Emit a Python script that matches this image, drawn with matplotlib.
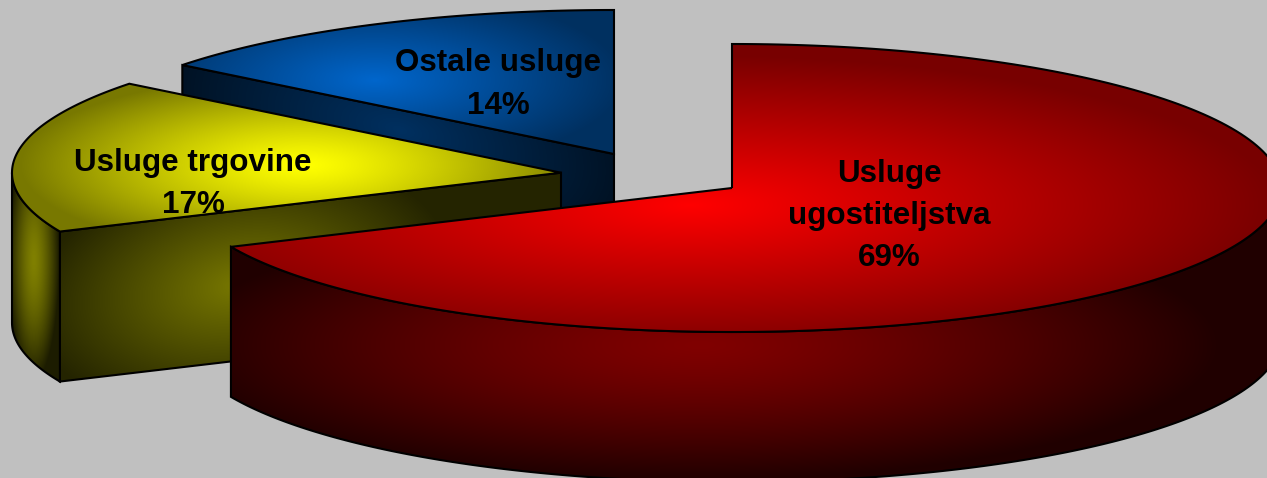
import matplotlib

matplotlib.use("Agg")
import matplotlib.pyplot as plt
import numpy as np
from matplotlib.colors import to_rgb
from matplotlib.patches import Polygon

categories = ["Usluge\nugostiteljstva", "Usluge trgovine", "Ostale usluge"]
shares = [68.3, 17.3, 14.4]
percent_labels = ["69%", "17%", "14%"]

WIDTH, HEIGHT = 1267, 478
RX, RY = 549, 144
DEPTH = 150

# Per slice: exploded centre and label position, in pixels
centers = [(732, 188), (561, 172.7), (614, 154)]
label_pos = [(889, 216), (193, 184), (498, 84.5)]

# Gradients: (cx, cy, rx, ry, bright, dark, slope, power)
top_shades = [
    (690, 205, 590, 150, "#ff0000", "#780000", 0, 1),
    (305, 165, 285, 90, "#ffff00", "#787800", 0, 1.25),
    (375, 80, 250, 90, "#0066cc", "#003060", 0, 1),
]
rim_shades = [
    (700, 345, 520, 135, "#800000", "#200000", 0, 1.3),
    (34, 260, 25, 120, "#808000", "#1c1c00", 0, 1.5),
    None,
]
cut_shades = [
    None,
    (240, 285, 210, 125, "#787800", "#242400", -0.115, 1),
    (400, 130, 235, 120, "#003060", "#001020", 0.2, 1),
]

X, Y = np.meshgrid(np.arange(WIDTH) + 0.5, np.arange(HEIGHT) + 0.5)


def shade(cx, cy, rx, ry, bright, dark, slope, power):
    dy = Y - cy - slope * (X - cx)
    t = np.clip(np.sqrt(((X - cx) / rx) ** 2 + (dy / ry) ** 2), 0, 1) ** power
    bright, dark = np.array(to_rgb(bright)), np.array(to_rgb(dark))
    return bright + (dark - bright) * t[..., None]


def arc(center, a1, a2):
    # a1 and a2 in degrees, counter clockwise from the right
    ang = np.radians(np.linspace(a1, a2, 200))
    return np.column_stack(
        [center[0] + RX * np.cos(ang), center[1] - RY * np.sin(ang)]
    )


def draw_face(ax, pts, params, zorder):
    outline = Polygon(pts, closed=True, fill=False, edgecolor="black", lw=1.5, zorder=zorder + 0.5)
    ax.add_patch(outline)
    im = ax.imshow(
        shade(*params),
        extent=(0, WIDTH, HEIGHT, 0),
        interpolation="nearest",
        aspect="auto",
        zorder=zorder,
    )
    im.set_clip_path(Polygon(pts, closed=True, transform=ax.transData))


fig = plt.figure(figsize=(WIDTH / 100, HEIGHT / 100), dpi=100, facecolor="#c0c0c0")
ax = fig.add_axes([0, 0, 1, 1])
ax.set_axis_off()

# Angles run clockwise from the top
sweeps = np.array(shares) / sum(shares) * 360
ends = 90 - np.cumsum(sweeps)
starts = ends + sweeps

# Back slices first so the red one lands on top
for i in [2, 1, 0]:
    z = (2 - i) * 10 + 1
    c = centers[i]
    a1, a2 = starts[i], ends[i]
    shift = np.array([0, DEPTH])

    if cut_shades[i] is not None:
        corner = arc(c, a1, a1)[:1]
        face = np.vstack([corner, [c], np.array([c]) + shift, corner + shift])
        draw_face(ax, face, cut_shades[i], z)

    if rim_shades[i] is not None:
        # only the front half of the rim can be seen
        edge = arc(c, min(a1, 0), max(a2, -180))
        draw_face(ax, np.vstack([edge, edge[::-1] + shift]), rim_shades[i], z + 1)

    top = np.vstack([[c], arc(c, a1, a2)])
    draw_face(ax, top, top_shades[i], z + 2)

for name, pct, pos in zip(categories, percent_labels, label_pos):
    ax.text(
        pos[0],
        pos[1],
        f"{name}\n{pct}",
        ha="center",
        va="center",
        family="Liberation Sans",
        fontweight="bold",
        fontsize=22.6,
        color="black",
        linespacing=1.53,
        zorder=50,
    )

ax.set_xlim(0, WIDTH)
ax.set_ylim(HEIGHT, 0)
fig.savefig("out.png", dpi=100, facecolor=fig.get_facecolor())
